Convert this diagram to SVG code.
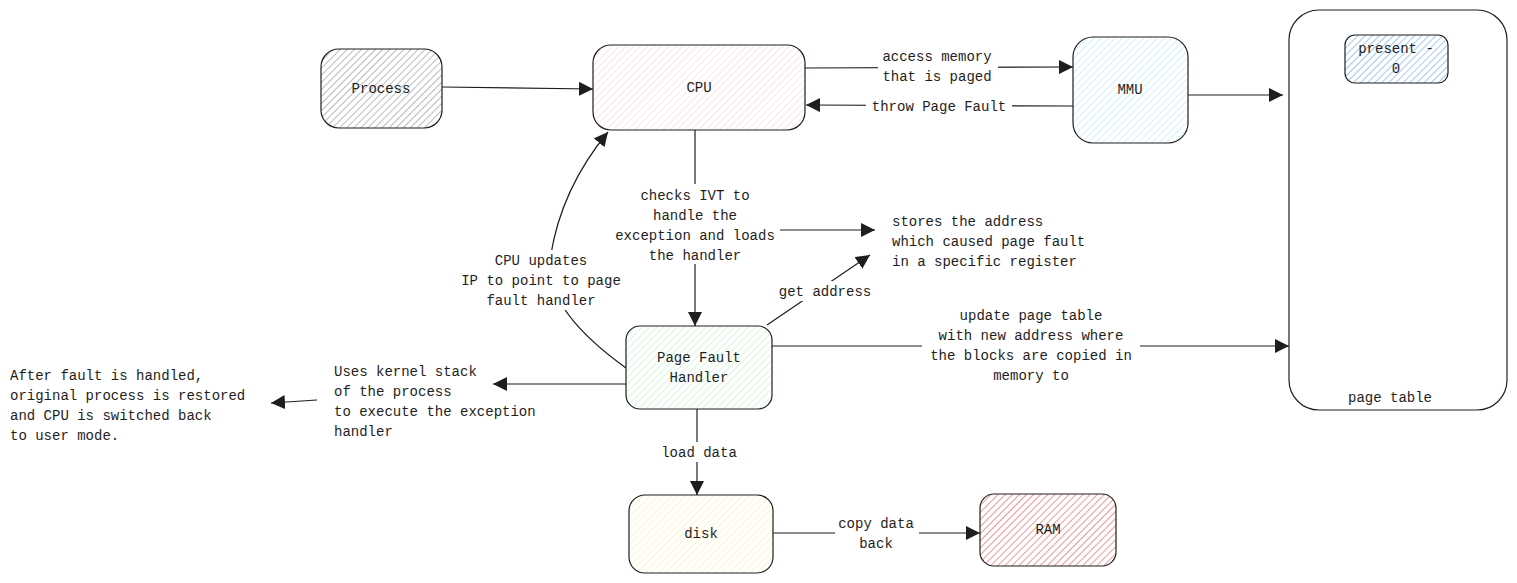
<svg xmlns="http://www.w3.org/2000/svg" width="1517" height="583" viewBox="0 0 1517 583">
<style>
.n{stroke:#1e1e1e;stroke-width:1.2}
.c{stroke:#1e1e1e;stroke-width:1.2;fill:none}
text{font-family:"Liberation Mono","DejaVu Sans Mono",monospace;font-size:14px;fill:#1e1e1e}
.m{text-anchor:middle}
</style>
<defs>
<pattern id="hg" width="5" height="5" patternUnits="userSpaceOnUse" patternTransform="rotate(45)"><rect width="5" height="5" fill="#fff"/><line x1="0" y1="0" x2="0" y2="5" stroke="#777" stroke-width="1"/></pattern>
<pattern id="hp" width="5" height="5" patternUnits="userSpaceOnUse" patternTransform="rotate(45)"><rect width="5" height="5" fill="#fff"/><line x1="0" y1="0" x2="0" y2="5" stroke="#ffc9c9" stroke-width="1"/></pattern>
<pattern id="hc" width="5" height="5" patternUnits="userSpaceOnUse" patternTransform="rotate(45)"><rect width="5" height="5" fill="#fff"/><line x1="0" y1="0" x2="0" y2="5" stroke="#a5e6f5" stroke-width="1"/></pattern>
<pattern id="hb" width="5" height="5" patternUnits="userSpaceOnUse" patternTransform="rotate(45)"><rect width="5" height="5" fill="#fff"/><line x1="0" y1="0" x2="0" y2="5" stroke="#4a90e2" stroke-width="1"/></pattern>
<pattern id="hgr" width="5" height="5" patternUnits="userSpaceOnUse" patternTransform="rotate(45)"><rect width="5" height="5" fill="#fff"/><line x1="0" y1="0" x2="0" y2="5" stroke="#b2f2bb" stroke-width="1"/></pattern>
<pattern id="hy" width="5" height="5" patternUnits="userSpaceOnUse" patternTransform="rotate(45)"><rect width="5" height="5" fill="#fff"/><line x1="0" y1="0" x2="0" y2="5" stroke="#ffec99" stroke-width="1"/></pattern>
<pattern id="hr" width="5" height="5" patternUnits="userSpaceOnUse" patternTransform="rotate(45)"><rect width="5" height="5" fill="#fff"/><line x1="0" y1="0" x2="0" y2="5" stroke="#e03131" stroke-width="1"/></pattern>
<marker id="a" viewBox="0 0 10 10" refX="10" refY="5" markerWidth="14" markerHeight="14" markerUnits="userSpaceOnUse" orient="auto"><path d="M0,0L10,5L0,10z" fill="#1e1e1e"/></marker>
</defs>
<g id="process"><rect class="n" x="321" y="49" width="121" height="79" rx="18" fill="url(#hg)"/><text class="m" x="381" y="93">Process</text></g>
<g id="cpu"><rect class="n" x="593" y="45" width="212" height="85" rx="18" fill="url(#hp)"/><text class="m" x="699" y="92">CPU</text></g>
<g id="mmu"><rect class="n" x="1073" y="37" width="115" height="106" rx="20" fill="url(#hc)"/><text class="m" x="1130" y="94">MMU</text></g>
<g id="pagetable"><rect class="n" x="1289" y="10" width="218" height="400" rx="30" fill="#fff"/><text class="m" x="1390" y="402">page table</text></g>
<g id="present"><rect class="n" x="1345" y="35" width="103" height="48" rx="10" fill="url(#hb)"/><text class="m" x="1396" y="53">present -</text><text class="m" x="1396" y="73">0</text></g>
<g id="pfh"><rect class="n" x="626" y="326" width="146" height="83" rx="14" fill="url(#hgr)"/><text class="m" x="699" y="362">Page Fault</text><text class="m" x="699" y="382">Handler</text></g>
<g id="disk"><rect class="n" x="629" y="495" width="144" height="78" rx="16" fill="url(#hy)"/><text class="m" x="701" y="538">disk</text></g>
<g id="ram"><rect class="n" x="980" y="494" width="136" height="72" rx="14" fill="url(#hr)"/><text class="m" x="1048" y="534">RAM</text></g>
<g id="connectors">
<path class="c" d="M442,87L593,89" marker-end="url(#a)"/>
<path class="c" d="M805,68L1073,67" marker-end="url(#a)"/>
<path class="c" d="M1073,106L806,105" marker-end="url(#a)"/>
<path class="c" d="M1188,95L1283,95" marker-end="url(#a)"/>
<path class="c" d="M695,130L695,326" marker-end="url(#a)"/>
<path class="c" d="M778,230L875,230" marker-end="url(#a)"/>
<path class="c" d="M626,368Q545,310 550,260Q560,190 608,132" marker-end="url(#a)"/>
<path class="c" d="M767,325L870,255" marker-end="url(#a)"/>
<path class="c" d="M772,346L1289,346" marker-end="url(#a)"/>
<path class="c" d="M626,384L493,384" marker-end="url(#a)"/>
<path class="c" d="M317,400L271,403" marker-end="url(#a)"/>
<path class="c" d="M697,409L697,495" marker-end="url(#a)"/>
<path class="c" d="M773,533L980,533" marker-end="url(#a)"/>
<g fill="#fff"><rect x="878" y="45" width="120" height="40"/><rect x="866" y="96" width="146" height="20"/><rect x="610" y="184" width="170" height="80"/><rect x="455" y="250" width="172" height="60"/><rect x="774" y="281" width="102" height="20"/><rect x="922" y="305" width="218" height="80"/><rect x="656" y="442" width="86" height="20"/><rect x="835" y="513" width="84" height="40"/></g>
<text class="m" x="937" y="61">access memory</text><text class="m" x="937" y="81">that is paged</text>
<text class="m" x="939" y="111">throw Page Fault</text>
<text class="m" x="695" y="200">checks IVT to</text><text class="m" x="695" y="220">handle the</text><text class="m" x="695" y="240">exception and loads</text><text class="m" x="695" y="260">the handler</text>
<text class="m" x="541" y="265">CPU updates</text><text class="m" x="541" y="285">IP to point to page</text><text class="m" x="541" y="305">fault handler</text>
<text class="m" x="825" y="296">get address</text>
<text class="m" x="1031" y="320">update page table</text><text class="m" x="1031" y="340">with new address where</text><text class="m" x="1031" y="360">the blocks are copied in</text><text class="m" x="1031" y="380">memory to</text>
<text class="m" x="699" y="457">load data</text>
<text class="m" x="876" y="528">copy data</text><text class="m" x="876" y="548">back</text>
</g>
<text x="892" y="226">stores the address</text><text x="892" y="246">which caused page fault</text><text x="892" y="266">in a specific register</text>
<text x="334" y="376">Uses kernel stack</text><text x="334" y="396">of the process</text><text x="334" y="416">to execute the exception</text><text x="334" y="436">handler</text>
<text x="10" y="380">After fault is handled,</text><text x="10" y="400">original process is restored</text><text x="10" y="420">and CPU is switched back</text><text x="10" y="440">to user mode.</text>
</svg>
